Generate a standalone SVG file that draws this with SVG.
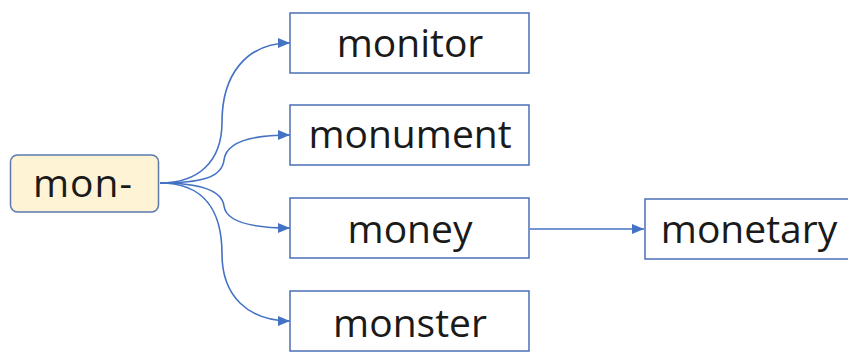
<svg xmlns="http://www.w3.org/2000/svg" width="848" height="352" viewBox="0 0 848 352">
  <style>
    .box { fill: #ffffff; stroke: #4a6fb5; stroke-width: 1.5; }
    .root { fill: #fff3d6; stroke: #5a7aad; stroke-width: 1.5; }
    .lbl { font-family: "Open Sans", "Noto Sans", sans-serif; font-size: 39px; fill: #1a1a1a; text-anchor: middle; }
    .conn { fill: none; stroke: #4472c4; stroke-width: 1.6; marker-end: url(#arrow); }
  </style>
  <defs>
    <marker id="arrow" viewBox="0 0 12 10" refX="12" refY="5" markerWidth="12" markerHeight="10" markerUnits="userSpaceOnUse" orient="auto">
      <path d="M0,0 L12,5 L0,10 Z" fill="#4472c4"/>
    </marker>
  </defs>
  <rect width="848" height="352" fill="#ffffff"/>
  <g id="connectors">
    <path class="conn" d="M160,183 C198,183 222,162 222,122 C222,75 246,43 290,43"/>
    <path class="conn" d="M160,183 C200,183 222,178 224,160 C226,142 250,135 290,135"/>
    <path class="conn" d="M160,183 C200,183 222,190 224,206 C226,222 250,228 290,228"/>
    <path class="conn" d="M160,183 C205,183 222,212 222,254 C222,296 248,321 290,321"/>
    <path class="conn" d="M530,229 L644,229"/>
  </g>
  <g id="node-mon">
    <rect class="root" x="10.5" y="155" width="148" height="57" rx="7"/>
    <text class="lbl" x="83" y="197" letter-spacing="1">mon-</text>
  </g>
  <g id="node-monitor">
    <rect class="box" x="290" y="13" width="239" height="60"/>
    <text class="lbl" x="410" y="57">monitor</text>
  </g>
  <g id="node-monument">
    <rect class="box" x="290" y="105" width="239" height="60"/>
    <text class="lbl" x="410" y="148">monument</text>
  </g>
  <g id="node-money">
    <rect class="box" x="290" y="198" width="239" height="60"/>
    <text class="lbl" x="410" y="243">money</text>
  </g>
  <g id="node-monster">
    <rect class="box" x="290" y="291" width="239" height="60"/>
    <text class="lbl" x="410" y="337">monster</text>
  </g>
  <g id="node-monetary">
    <rect class="box" x="645" y="199" width="208" height="60"/>
    <text class="lbl" x="749" y="243">monetary</text>
  </g>
</svg>
